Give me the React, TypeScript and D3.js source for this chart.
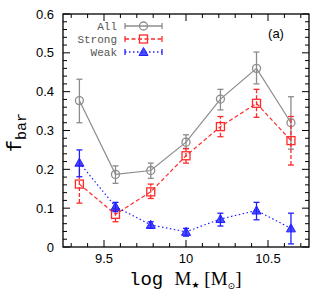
import React from "react";
import * as d3 from "d3";

// log stellar mass bins
const massBins = [9.35, 9.57, 9.785, 10.0, 10.21, 10.43, 10.64];

// bar fraction, all galaxies
const allValues = [0.377, 0.187, 0.197, 0.27, 0.381, 0.46, 0.32];
const allLow = [0.32, 0.164, 0.177, 0.254, 0.353, 0.42, 0.252];
const allHigh = [0.432, 0.209, 0.216, 0.289, 0.406, 0.502, 0.387];

// strong bars
const strongValues = [0.162, 0.084, 0.142, 0.235, 0.31, 0.37, 0.274];
const strongLow = [0.113, 0.065, 0.125, 0.216, 0.284, 0.334, 0.211];
const strongHigh = [0.21, 0.1, 0.162, 0.253, 0.336, 0.406, 0.336];

// weak bars
const weakValues = [0.217, 0.104, 0.057, 0.039, 0.072, 0.094, 0.048];
const weakLow = [0.181, 0.091, 0.048, 0.028, 0.054, 0.07, 0.008];
const weakHigh = [0.25, 0.115, 0.065, 0.048, 0.087, 0.115, 0.087];

const xTickLabels = ["9.5", "10", "10.5"];
const yTickLabels = ["0", "0.1", "0.2", "0.3", "0.4", "0.5", "0.6"];
const legendNames = ["All", "Strong", "Weak"];

const W = 332;
const H = 301;
const left = 63;
const right = 309;
const top = 14;
const bottom = 247;

const GREY = "#8c8c8c";
const RED = "#ff2a2a";
const BLUE = "#2020ff";

const x = d3.scaleLinear().domain([9.25, 10.75]).range([left, right]);
const y = d3.scaleLinear().domain([0, 0.6]).range([bottom, top]);

const line = d3
  .line<number>()
  .x((_, i) => x(massBins[i]))
  .y((d) => y(d));

type Kind = "circle" | "square" | "triangle";

const Marker: React.FC<{ cx: number; cy: number; kind: Kind; color: string }> = ({
  cx,
  cy,
  kind,
  color,
}) => {
  if (kind === "circle")
    return <circle cx={cx} cy={cy} r={4} fill="none" stroke={color} strokeWidth={1.3} />;
  if (kind === "square")
    return (
      <rect x={cx - 4} y={cy - 4} width={8} height={8} fill="none" stroke={color} strokeWidth={1.3} />
    );
  return (
    <path
      d={`M${cx},${cy - 4.5}L${cx + 4.5},${cy + 3.5}L${cx - 4.5},${cy + 3.5}Z`}
      fill={color}
      fillOpacity={0.8}
      stroke={color}
      strokeWidth={1}
    />
  );
};

const series = [
  { vals: allValues, lo: allLow, hi: allHigh, color: GREY, dash: "none", kind: "circle" as Kind },
  { vals: strongValues, lo: strongLow, hi: strongHigh, color: RED, dash: "4,2.5", kind: "square" as Kind },
  { vals: weakValues, lo: weakLow, hi: weakHigh, color: BLUE, dash: "1.5,2.5", kind: "triangle" as Kind },
];

const App: React.FC = () => {
  const xMinor = d3.range(9.3, 10.75, 0.1).map((v) => +v.toFixed(2));
  const yMinor = d3.range(0, 0.601, 0.02).map((v) => +v.toFixed(2));

  return (
    <svg
      width={W}
      height={H}
      style={{ position: "absolute", left: 0, top: 0, background: "#fff" }}
      fontFamily="Liberation Sans, Arial, sans-serif"
    >
      {/* ticks, inward on all four sides */}
      <g stroke="#000" strokeWidth={1}>
        {xMinor.map((v) => {
          const major = Math.abs(v * 2 - Math.round(v * 2)) < 1e-6;
          const len = major ? 7 : 4;
          return (
            <g key={"x" + v}>
              <line x1={x(v)} x2={x(v)} y1={bottom} y2={bottom - len} />
              <line x1={x(v)} x2={x(v)} y1={top} y2={top + len} />
            </g>
          );
        })}
        {yMinor.map((v) => {
          const major = Math.abs(v * 10 - Math.round(v * 10)) < 1e-6;
          const len = major ? 7 : 4;
          return (
            <g key={"y" + v}>
              <line x1={left} x2={left + len} y1={y(v)} y2={y(v)} />
              <line x1={right} x2={right - len} y1={y(v)} y2={y(v)} />
            </g>
          );
        })}
      </g>

      {/* tick labels */}
      <g fontSize={13} fill="#000">
        {xTickLabels.map((t) => (
          <text key={t} x={x(+t)} y={263} textAnchor="middle">
            {t}
          </text>
        ))}
        {yTickLabels.map((t) => (
          <text key={t} x={54} y={y(+t) + 4.5} textAnchor="end">
            {t}
          </text>
        ))}
      </g>

      {/* data */}
      {series.map((s, si) => (
        <g key={si}>
          <path
            d={line(s.vals) ?? ""}
            fill="none"
            stroke={s.color}
            strokeWidth={1.2}
            strokeDasharray={s.dash}
          />
          {s.vals.map((v, i) => {
            const cx = x(massBins[i]);
            return (
              <g key={i} stroke={s.color} strokeWidth={1.3} strokeDasharray={si === 1 ? "4,2" : "none"}>
                <line x1={cx} x2={cx} y1={y(s.lo[i])} y2={y(s.hi[i])} />
                <line x1={cx - 3} x2={cx + 3} y1={y(s.lo[i])} y2={y(s.lo[i])} strokeDasharray="none" />
                <line x1={cx - 3} x2={cx + 3} y1={y(s.hi[i])} y2={y(s.hi[i])} strokeDasharray="none" />
              </g>
            );
          })}
          {s.vals.map((v, i) => (
            <Marker key={"m" + i} cx={x(massBins[i])} cy={y(v)} kind={s.kind} color={s.color} />
          ))}
        </g>
      ))}

      {/* legend */}
      {series.map((s, i) => {
        const ly = 26 + i * 13;
        return (
          <g key={"lg" + i}>
            <text
              x={117}
              y={ly + 4}
              textAnchor="end"
              fontFamily="Liberation Mono, DejaVu Sans Mono, monospace"
              fontSize={11}
              fill="#555"
            >
              {legendNames[i]}
            </text>
            <line x1={125} x2={162} y1={ly} y2={ly} stroke={s.color} strokeWidth={1.3} strokeDasharray={s.dash} />
            <line x1={125} x2={125} y1={ly - 3} y2={ly + 3} stroke={s.color} strokeWidth={1.3} />
            <line x1={162} x2={162} y1={ly - 3} y2={ly + 3} stroke={s.color} strokeWidth={1.3} />
            <Marker cx={143.5} cy={ly} kind={s.kind} color={s.color} />
          </g>
        );
      })}

      <text x={276} y={38} fontSize={13} textAnchor="middle">
        (a)
      </text>

      {/* frame */}
      <rect x={left} y={top} width={right - left} height={bottom - top} fill="none" stroke="#000" strokeWidth={1.3} />

      {/* axis titles */}
      <text
        transform="translate(21,152) rotate(-90)"
        fontFamily="Liberation Mono, DejaVu Sans Mono, monospace"
        fontSize={20}
      >
        f
        <tspan fontSize={15} dy={5}>
          bar
        </tspan>
      </text>
      <text x={129} y={285} fontSize={19}>
        <tspan fontFamily="Liberation Mono, DejaVu Sans Mono, monospace">log </tspan>
        <tspan fontFamily="Liberation Serif, Times New Roman, serif">M</tspan>
        <tspan fontFamily="DejaVu Sans, sans-serif" fontSize={9} dy={3}>
          ★
        </tspan>
        <tspan fontFamily="Liberation Serif, Times New Roman, serif" dy={-3}>
          {" [M"}
        </tspan>
        <tspan fontFamily="DejaVu Sans, sans-serif" fontSize={9} dy={4}>
          ⊙
        </tspan>
        <tspan fontFamily="Liberation Serif, Times New Roman, serif" dy={-4}>
          ]
        </tspan>
      </text>
    </svg>
  );
};

export default App;
